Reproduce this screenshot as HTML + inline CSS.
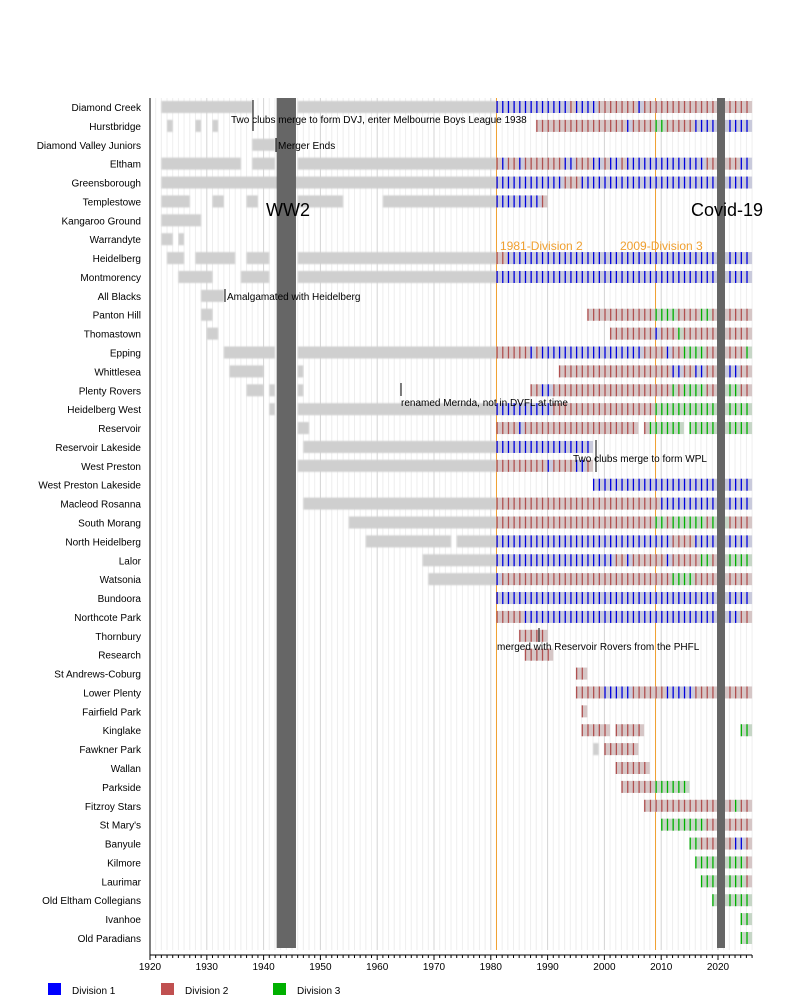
<!DOCTYPE html>
<html><head><meta charset="utf-8"><style>
html,body{margin:0;padding:0;background:#fff;width:800px;height:1000px;overflow:hidden}
svg{display:block;font-family:"Liberation Sans",sans-serif}
</style></head><body>
<svg id="s" width="800" height="1000" xmlns="http://www.w3.org/2000/svg"></svg>
<script>
const S=document.getElementById('s');
const X=y=>150+(y-1920)*5.68;
const Y0=107,DY=18.886;
let h='';
// grid
for(let y=1920;y<=2026;y++){const x=X(y);h+=`<line x1="${x}" y1="98" x2="${x}" y2="950" stroke="${y%10==0?'#d4d4d4':'#eeeeee'}" stroke-width="1"/>`;}
const rows=[
["Diamond Creek",[[1922,1938],[1946,1981]],"BBBBBBBBBBBBBRBBBBRRRRRRRBRRRRRRRRRRRRR",1981,"RRRRR"],
["Hurstbridge",[[1923,1924],[1928,1929],[1931,1932]],"RRRRRRRRRRRRRRRRBRRRRGGRRRRRBBBB",1988,"BBBBB"],
["Diamond Valley Juniors",[[1938,1942]],"",1981,""],
["Eltham",[[1922,1936],[1938,1942],[1946,1981]],"RBRRBRRRRRRRBBRRRBBRBBRBBBBBBBBBBBBBBRR",1981,"RRRBB"],
["Greensborough",[[1922,1981]],"BBBBBBBBBBBBRRRBBBBBBBBBBBBBBBBBBBBBBBB",1981,"BBBBB"],
["Templestowe",[[1922,1927],[1931,1933],[1937,1939],[1946,1954],[1961,1981]],"BBBBBBBBR",1981,""],
["Kangaroo Ground",[[1922,1929]],"",1981,""],
["Warrandyte",[[1922,1924],[1925,1926]],"",1981,""],
["Heidelberg",[[1923,1926],[1928,1935],[1937,1941],[1946,1981]],"RRBBBBBBBBBBBBBBBBBBBBBBBBBBBBBBBBBBBBB",1981,"BBBBB"],
["Montmorency",[[1925,1931],[1936,1941],[1946,1981]],"BBBBBBBBBBBBBBBBBBBBBBBBBBBBBBBBBBBBBBB",1981,"BBBBB"],
["All Blacks",[[1929,1933]],"",1981,""],
["Panton Hill",[[1929,1931]],"RRRRRRRRRRRRGGGGRRRRGGR",1997,"RRRRR"],
["Thomastown",[[1930,1932]],"RRRRRRRRBRRRGRRRRRR",2001,"RRRRR"],
["Epping",[[1933,1942],[1946,1981]],"RRRRRRBRBBBBBBBBBBBBBBBBBBRRRRBRRGGGGRR",1981,"RRRRG"],
["Whittlesea",[[1934,1940],[1946,1947]],"RRRRRRRRRRRRRRRRRRRRBBRRBBRR",1992,"BBBRR"],
["Plenty Rovers",[[1937,1940],[1941,1942],[1946,1947]],"RRBBRRRRRRRRRRRRRRRRRRRRRGRGGGGRR",1987,"GGGRR"],
["Heidelberg West",[[1941,1942],[1946,1981]],"BBBBBBBBBBRRRRRRRRRRRRRRRRRRGGGGGGGGGGG",1981,"GGGGG"],
["Reservoir",[[1946,1948]],"RRRRBRRRRRRRRRRRRRRRRRRRR.RGGGGGG.GGGGG",1981,"GGGGG"],
["Reservoir Lakeside",[[1947,1981]],"BBBBBBBBBBBBBBBBB",1981,""],
["West Preston",[[1946,1981]],"RRRRRRRRRBRRRRBBR",1981,""],
["West Preston Lakeside",[],"BBBBBBBBBBBBBBBBBBBBBB",1998,"BBBBB"],
["Macleod Rosanna",[[1947,1981]],"RRRRRRRRRRRRRRRRRRRRRRRRRRRRRBBBBBBBBBB",1981,"BBBBB"],
["South Morang",[[1955,1981]],"RRRRRRRRRRRRRRRRRRRRRRRRRRRRGGRGGGGGGRG",1981,"GRRRR"],
["North Heidelberg",[[1958,1973],[1974,1981]],"BBBBBBBBBBBBBBBBBBBBBBBBBBBBBBBRRRRBBBB",1981,"BBBBB"],
["Lalor",[[1968,1981]],"BBBBBBBBBBBBBBBBBBBBBRRBRRRRRRBRRRRRGGR",1981,"GGGGG"],
["Watsonia",[[1969,1981]],"BRRRRRRRRRRRRRRRRRRRRRRRRRRRRRRGGGGRRRR",1981,"RRRRR"],
["Bundoora",[],"BBBBBBBBBBBBBBBBBBBBBBBBBBBBBBBBBBBBBBB",1981,"BBBBB"],
["Northcote Park",[],"RRRRRBBBBBBBBBBBBBBBBBBBBBBBBBBBBBBBBBB",1981,"BBBRR"],
["Thornbury",[],"RRRRR",1985,""],
["Research",[],"RRRRR",1986,""],
["St Andrews-Coburg",[],"RR",1995,""],
["Lower Plenty",[],"RRRRRBBBBBRRRRRRBBBBBRRRRR",1995,"RRRRR"],
["Fairfield Park",[],"R",1996,""],
["Kinglake",[],"RRRRR.RRRRR",1996,"...GG"],
["Fawkner Park",[[1998,1999]],"..RRRRRR",1998,""],
["Wallan",[],"RRRRRR",2002,""],
["Parkside",[],"RRRRRRGGGGGG",2003,""],
["Fitzroy Stars",[],"RRRRRRRRRRRRR",2007,"RRGRR"],
["St Mary's",[],"GGGGGGGGRR",2010,"RRRRR"],
["Banyule",[],"GGRRR",2015,"RRBBR"],
["Kilmore",[],"GGGG",2016,"GGGGR"],
["Laurimar",[],"GGG",2017,"GGGGR"],
["Old Eltham Collegians",[],"G",2019,"GGGGG"],
["Ivanhoe",[],"",2020,"...GG"],
["Old Paradians",[],"",2020,"...GG"]
];
const fill={B:'#c9cadc',R:'#d6c6c6',G:'#c6d6c6'},line={B:'#0000dd',R:'#b05050',G:'#00b000'};
function cell(yr,c,cy){if(c=='.'||!c)return'';const x=X(yr);return `<rect x="${x}" y="${cy-6}" width="5.68" height="12" fill="${fill[c]}"/><line x1="${x+0.6}" y1="${cy-6}" x2="${x+0.6}" y2="${cy+6}" stroke="${line[c]}" stroke-width="1.3"/>`;}
h+=`<defs><filter id="b" x="-5%" y="-30%" width="110%" height="160%"><feGaussianBlur stdDeviation="0.8"/></filter></defs>`;
// orange lines
h+=`<line x1="${X(1981)}" y1="98" x2="${X(1981)}" y2="950" stroke="#f0a030" stroke-width="1"/><line x1="${X(2009)}" y1="98" x2="${X(2009)}" y2="950" stroke="#f0a030" stroke-width="1"/>`;
rows.forEach((r,i)=>{const cy=Y0+i*DY;
 h+=`<text x="141" y="${cy+4}" font-size="10" text-anchor="end" fill="#000">${r[0].replace("'","&#39;")}</text>`;
 r[1].forEach(g=>{h+=`<rect x="${X(g[0])}" y="${cy-6}" width="${(g[1]-g[0])*5.68}" height="12" fill="#cfcfcf" filter="url(#b)"/>`;});
 const s=r[2];for(let k=0;k<s.length;k++){const yr=r[3]+k;if(yr>=2020)break;h+=cell(yr,s[k],cy);}
 const p=r[4];for(let k=0;k<p.length;k++)h+=cell(2021+k,p[k],cy);
});
// war / covid
h+=`<rect x="${X(1942.3)}" y="98" width="${3.4*5.68}" height="850" fill="#666"/>`;
h+=`<rect x="717" y="98" width="8" height="850" fill="#666"/>`;
h+=`<text x="288" y="216" font-size="18" text-anchor="middle">WW2</text><text x="727" y="216" font-size="18" text-anchor="middle">Covid-19</text>`;
h+=`<text x="500" y="250" font-size="12" fill="#f0a030">1981-Division 2</text><text x="620" y="250" font-size="12" fill="#f0a030">2009-Division 3</text>`;
// annotations
function mark(x,y1,y2){h+=`<line x1="${x}" y1="${y1}" x2="${x}" y2="${y2}" stroke="#000" stroke-width="1"/>`;}
mark(253,100,131);h+=`<text x="231" y="123" font-size="10">Two clubs merge to form DVJ, enter Melbourne Boys League 1938</text>`;
mark(276,138,152);h+=`<text x="278" y="149" font-size="10">Merger Ends</text>`;
mark(225,289,302);h+=`<text x="227" y="300" font-size="10">Amalgamated with Heidelberg</text>`;
mark(401,383,396);h+=`<text x="401" y="406" font-size="10">renamed Mernda, not in DVFL at time</text>`;
mark(596,440,472);h+=`<text x="573" y="462" font-size="10">Two clubs merge to form WPL</text>`;
mark(539,628,642);h+=`<text x="497" y="650" font-size="10">merged with Reservoir Rovers from the PHFL</text>`;
// axes
h+=`<line x1="150" y1="98" x2="150" y2="955" stroke="#000"/><line x1="150" y1="955" x2="752" y2="955" stroke="#000"/>`;
for(let y=1920;y<=2026;y++){const x=X(y);h+=`<line x1="${x}" y1="955" x2="${x}" y2="${y%10==0?960:958}" stroke="#000"/>`;if(y%10==0)h+=`<text x="${x}" y="970" font-size="10" text-anchor="middle">${y}</text>`;}
// legend
[[48,'#0000ff','Division 1'],[161,'#c05050','Division 2'],[273,'#00b000','Division 3']].forEach(l=>{h+=`<rect x="${l[0]}" y="983" width="13" height="12" fill="${l[1]}"/><text x="${l[0]+24}" y="994" font-size="10">${l[2]}</text>`;});
S.innerHTML=h;
</script>
</body></html>
